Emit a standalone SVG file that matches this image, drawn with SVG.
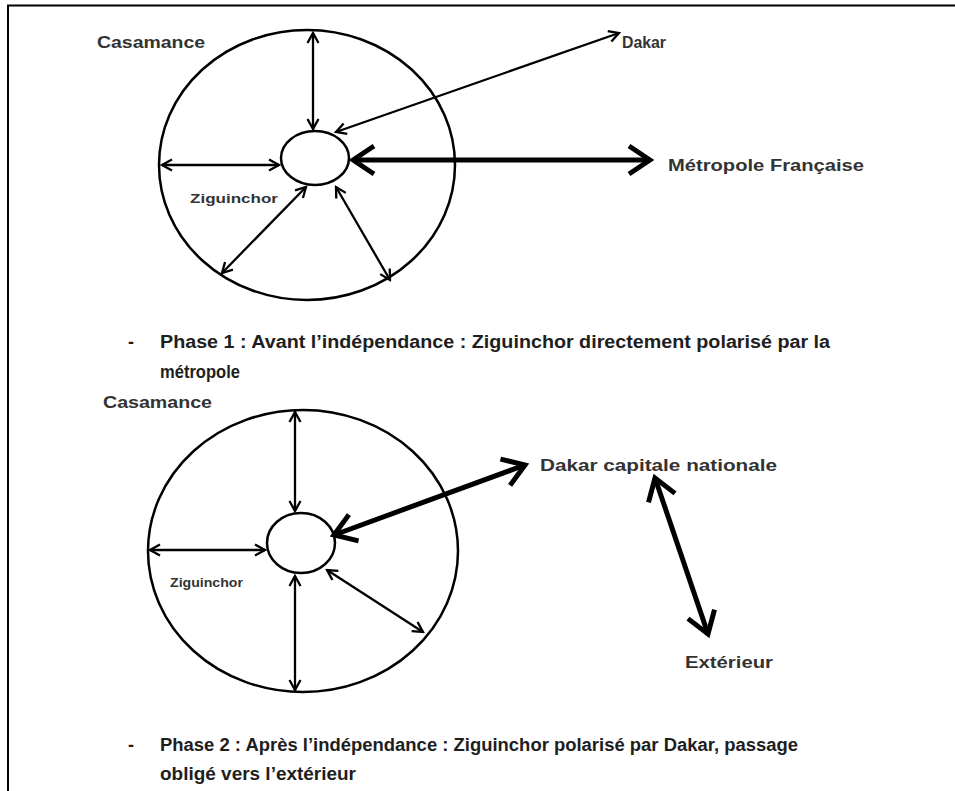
<svg xmlns="http://www.w3.org/2000/svg" width="955" height="791" viewBox="0 0 955 791">
<style>
.lbl{font-family:"Liberation Sans",Arial,sans-serif;font-weight:bold;fill:#333}
.cap{font-family:"Liberation Sans",Arial,sans-serif;font-weight:bold;fill:#1e1e1e;font-size:18px}
.ring{fill:none;stroke:#000;stroke-width:2.5}
.thin{fill:none;stroke:#000;stroke-width:2.3;marker-start:url(#ah);marker-end:url(#ah)}
.thick{fill:none;stroke:#000;stroke-width:5;marker-start:url(#ahb);marker-end:url(#ahb)}
</style>
<defs>
<marker id="ah" markerUnits="userSpaceOnUse" viewBox="0 0 14 14" markerWidth="14" markerHeight="14" refX="12" refY="7" orient="auto-start-reverse">
<path d="M2,1.5 L12,7 L2,12.5" fill="none" stroke="#000" stroke-width="2.3"/>
</marker>
<marker id="ahb" markerUnits="userSpaceOnUse" viewBox="0 0 30 34" markerWidth="30" markerHeight="34" refX="26" refY="17" orient="auto-start-reverse">
<path d="M5,3 L26,17 L5,31" fill="none" stroke="#000" stroke-width="5" stroke-linejoin="miter"/>
</marker>
</defs>
<rect width="955" height="791" fill="#fff"/>
<path d="M8,791 V5.5 H955" fill="none" stroke="#000" stroke-width="2"/>

<!-- Phase 1 -->
<g id="casamance1"><ellipse class="ring" cx="307" cy="165" rx="148" ry="135"/><text class="lbl" x="97" y="48" font-size="16" textLength="108" lengthAdjust="spacingAndGlyphs">Casamance</text></g>
<g id="ziguinchor1"><ellipse class="ring" cx="315" cy="158" rx="34" ry="27"/><text class="lbl" x="190" y="203" font-size="13" textLength="88" lengthAdjust="spacingAndGlyphs">Ziguinchor</text></g>
<g id="dakar1"><text class="lbl" x="622" y="48" font-size="16" textLength="44" lengthAdjust="spacingAndGlyphs">Dakar</text></g>
<g id="metropole1"><text class="lbl" x="668" y="171" font-size="16" textLength="196" lengthAdjust="spacingAndGlyphs">Métropole Française</text></g>

<!-- Phase 2 -->
<g id="casamance2"><ellipse class="ring" cx="303" cy="551" rx="155" ry="141"/><text class="lbl" x="103" y="408" font-size="16" textLength="109" lengthAdjust="spacingAndGlyphs">Casamance</text></g>
<g id="ziguinchor2"><ellipse class="ring" cx="301" cy="543" rx="34" ry="30"/><text class="lbl" x="170" y="587" font-size="12" textLength="73" lengthAdjust="spacingAndGlyphs">Ziguinchor</text></g>
<g id="dakar2"><text class="lbl" x="540" y="471" font-size="16" textLength="237" lengthAdjust="spacingAndGlyphs">Dakar capitale nationale</text></g>
<g id="exterieur2"><text class="lbl" x="685" y="668" font-size="16" textLength="88" lengthAdjust="spacingAndGlyphs">Extérieur</text></g>

<g id="connectors">
<line class="thin" x1="313" y1="33" x2="313" y2="129"/>
<line class="thin" x1="162" y1="165" x2="279" y2="165"/>
<line class="thin" x1="222" y1="273" x2="306" y2="187"/>
<line class="thin" x1="336" y1="187" x2="390" y2="280"/>
<line class="thin" x1="336" y1="132" x2="619" y2="33"/>
<line class="thick" x1="353" y1="160" x2="650" y2="160"/>

<line class="thin" x1="295" y1="412" x2="295" y2="511"/>
<line class="thin" x1="150" y1="550" x2="265" y2="550"/>
<line class="thin" x1="295" y1="576" x2="295" y2="690"/>
<line class="thin" x1="327" y1="570" x2="423" y2="632"/>
<line class="thick" x1="334" y1="535" x2="525" y2="465"/>
<line class="thick" x1="655" y1="478" x2="708" y2="634"/>
</g>

<g id="captions">
<text class="cap" x="128" y="348">-</text>
<text class="cap" x="160" y="348" textLength="670" lengthAdjust="spacingAndGlyphs">Phase 1 : Avant l’indépendance : Ziguinchor directement polarisé par la</text>
<text class="cap" x="160" y="378" textLength="80" lengthAdjust="spacingAndGlyphs">métropole</text>
<text class="cap" x="128" y="751">-</text>
<text class="cap" x="160" y="751" textLength="638" lengthAdjust="spacingAndGlyphs">Phase 2 : Après l’indépendance : Ziguinchor polarisé par Dakar, passage</text>
<text class="cap" x="160" y="780" textLength="196" lengthAdjust="spacingAndGlyphs">obligé vers l’extérieur</text>
</g>
</svg>
